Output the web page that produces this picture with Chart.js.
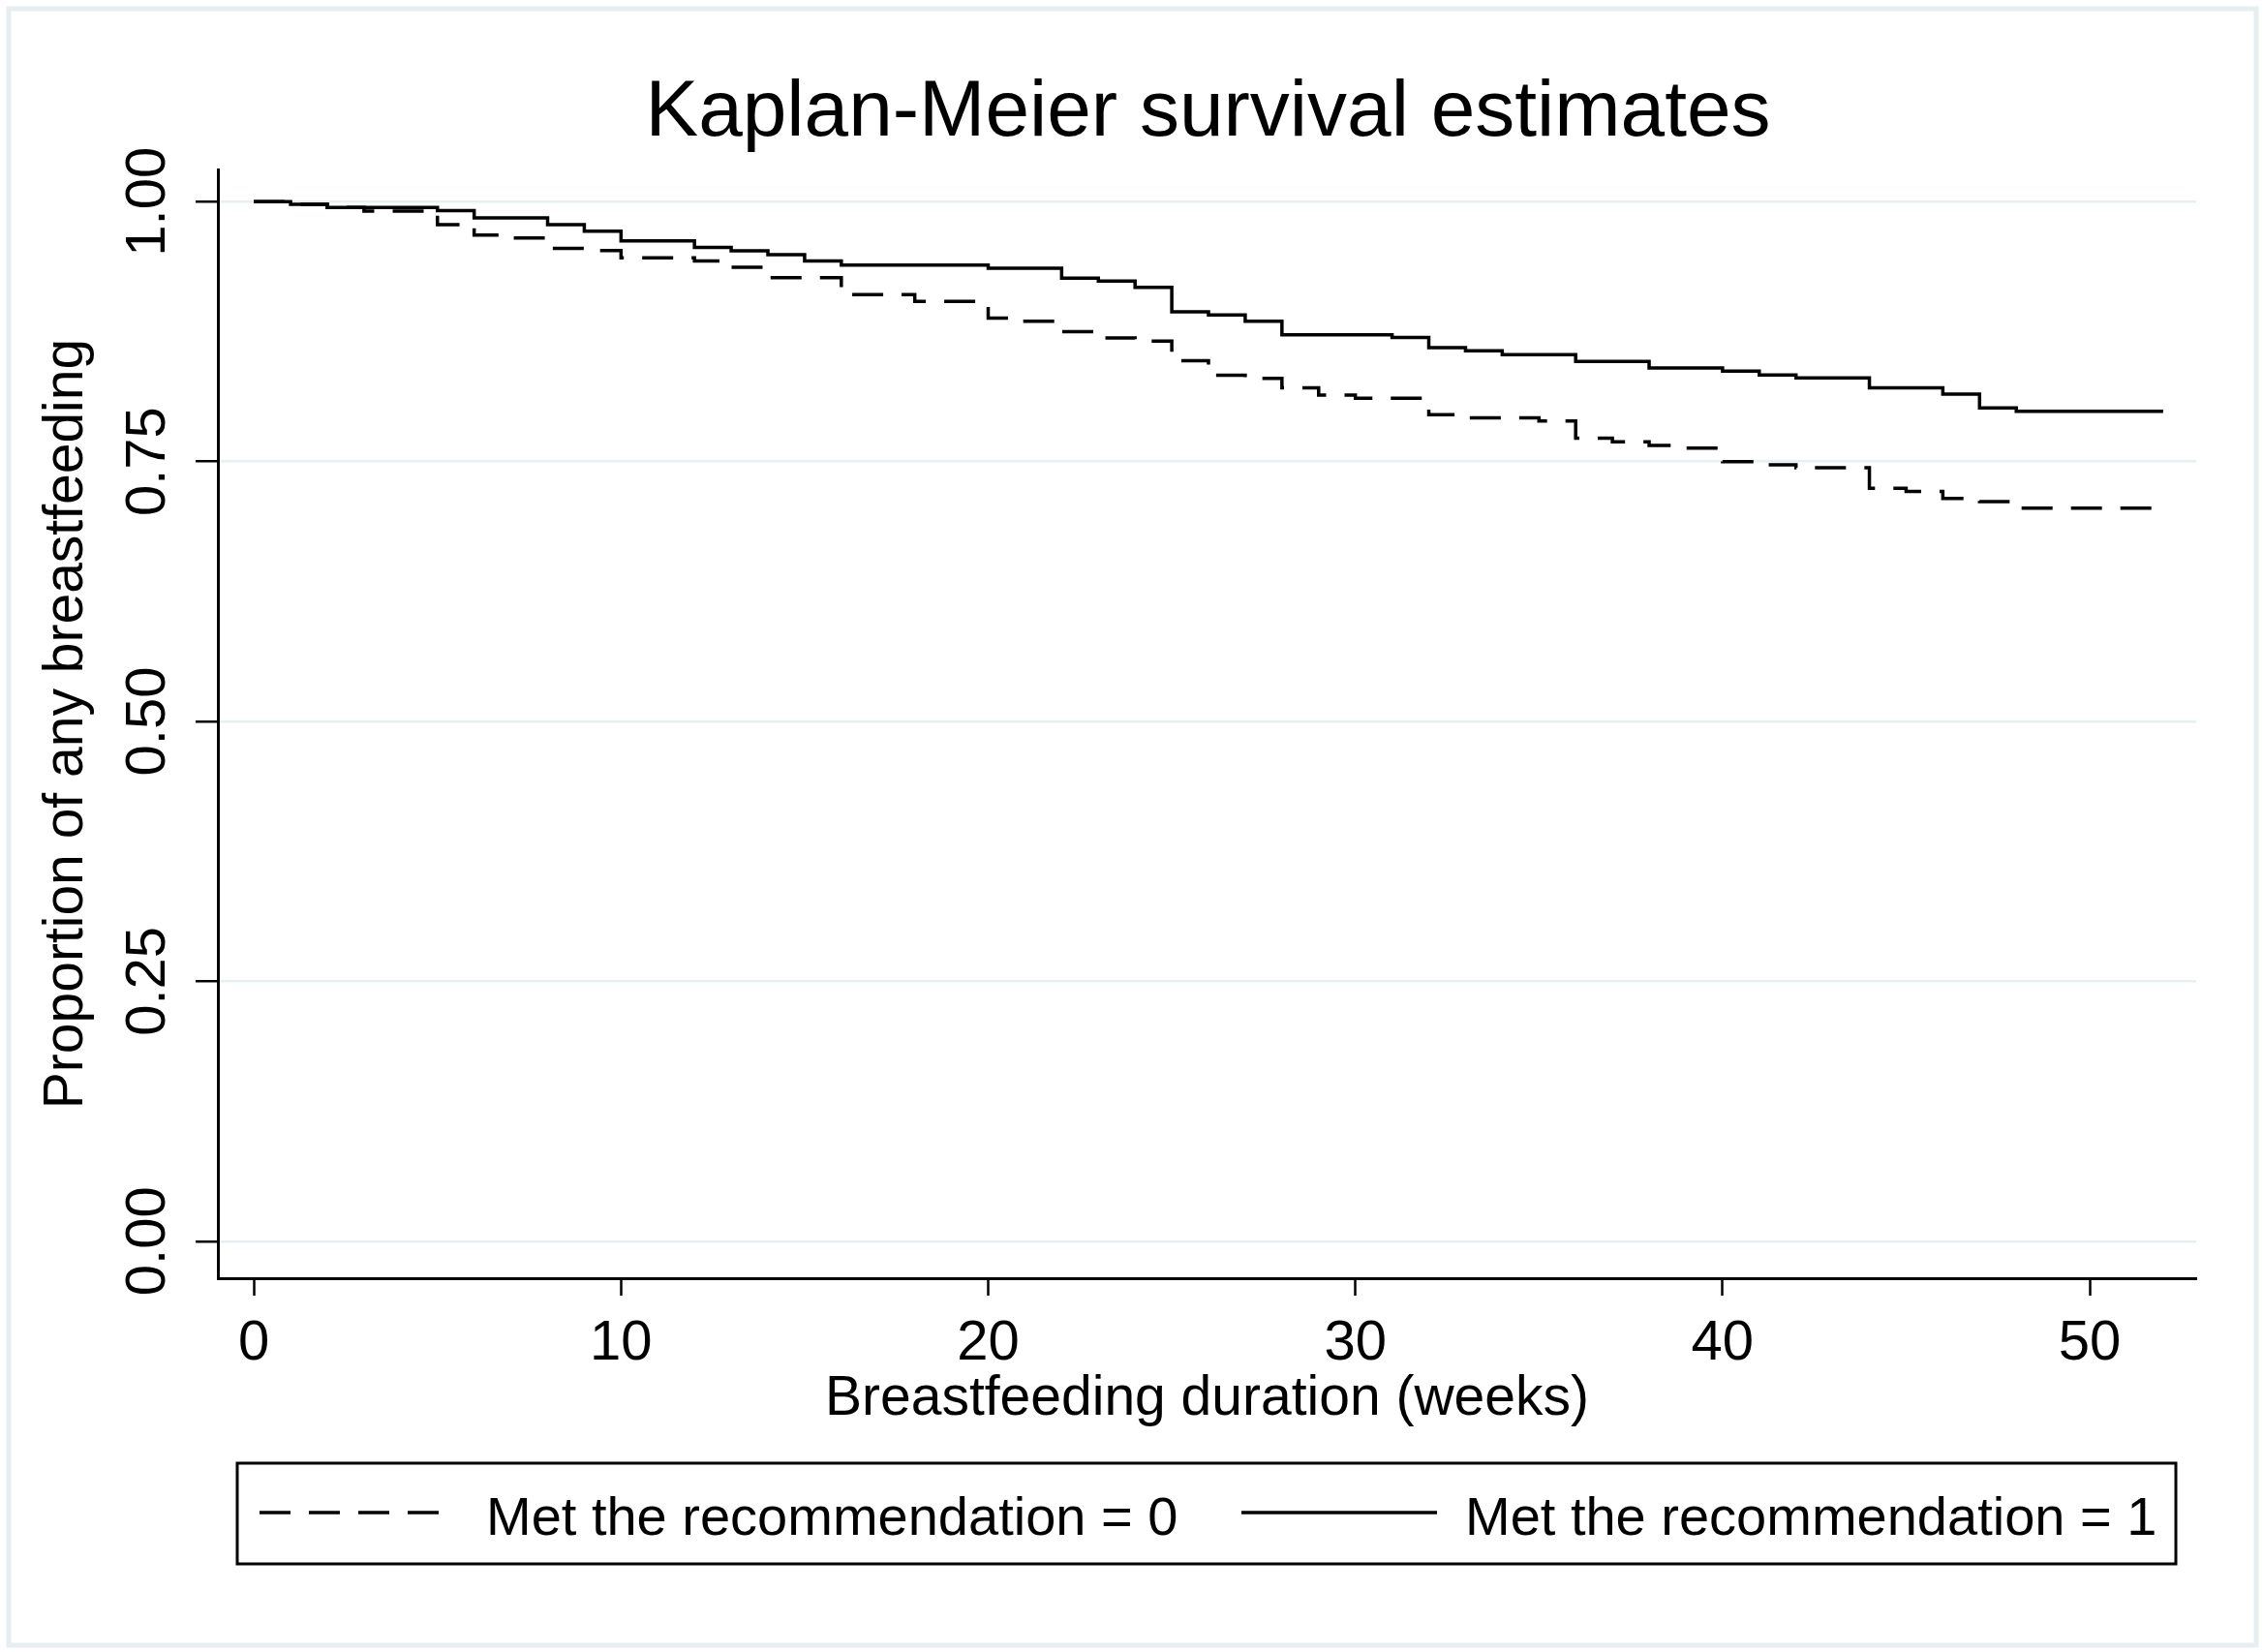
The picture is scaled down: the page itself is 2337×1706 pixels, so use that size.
<!DOCTYPE html>
<html>
<head>
<meta charset="utf-8">
<script src="https://cdn.jsdelivr.net/npm/chart.js@4.4.1/dist/chart.umd.min.js"></script>
<style>
  html, body { margin: 0; padding: 0; background: #ffffff; }
  canvas { display: block; }
</style>
</head>
<body>
<canvas id="c" width="2337" height="1706" style="width:2337px;height:1706px"></canvas>
<script>
// ---- data ----
const chartTitle = 'Kaplan-Meier survival estimates';
const xTitle = 'Breastfeeding duration (weeks)';
const yTitle = 'Proportion of any breastfeeding';
const seriesLabels = ['Met the recommendation = 0', 'Met the recommendation = 1'];

const weeks0 = [0,1,2,3,5,6,7,8,9,10,12,13,14,16,18,20,21,22,23,24,25,26,27,28,29,30,32,33,35,36,37,38,39,40,41,42,44,45,46,47,48,52];
const surv0  = [1.000,0.9975,0.9944,0.991,0.978,0.968,0.965,0.955,0.953,0.946,0.943,0.937,0.927,0.9105,0.904,0.888,0.885,0.875,0.869,0.866,0.847,0.833,0.830,0.821,0.814,0.811,0.795,0.792,0.789,0.7725,0.769,0.7654,0.763,0.750,0.747,0.744,0.7244,0.7213,0.7145,0.7114,0.7052,0.7052];

const weeks1 = [0,1,2,5,6,8,9,10,12,13,14,15,16,20,22,23,24,25,26,27,28,31,32,33,34,36,38,40,41,42,44,46,47,48,52];
const surv1  = [1.000,0.9975,0.9944,0.9913,0.9845,0.978,0.9716,0.9623,0.956,0.9528,0.949,0.943,0.939,0.936,0.9265,0.9237,0.9176,0.894,0.891,0.885,0.872,0.8694,0.8595,0.8565,0.8528,0.8463,0.840,0.837,0.8333,0.8306,0.821,0.8148,0.8015,0.7984,0.7984];

const xTickValues = [0,10,20,30,40,50];
const xTickLabels = ['0','10','20','30','40','50'];
const yTickValues = [0,0.25,0.5,0.75,1];
const yTickLabels = ['0.00','0.25','0.50','0.75','1.00'];

// ---- styling ----
const FONT = "'Liberation Sans', Arial, Helvetica, sans-serif";
Chart.defaults.font.family = FONT;
Chart.defaults.color = '#000000';

const toPoints = (xs, ys) => xs.map((x, i) => ({ x: x, y: ys[i] }));

const frameAndBg = {
  id: 'frameAndBg',
  beforeDraw(chart) {
    const ctx = chart.ctx;
    ctx.save();
    ctx.fillStyle = '#ffffff';
    ctx.fillRect(0, 0, chart.width, chart.height);
    ctx.strokeStyle = '#e6eef0';
    ctx.lineWidth = 5;
    ctx.strokeRect(9, 9, chart.width - 16, chart.height - 16);
    ctx.restore();
  }
};

const titleAndLegend = {
  id: 'titleAndLegend',
  afterDraw(chart) {
    const ctx = chart.ctx;
    const ca = chart.chartArea;
    ctx.save();
    // title centred over the plot region
    ctx.fillStyle = '#000000';
    ctx.font = '82px ' + FONT;
    ctx.textAlign = 'center';
    ctx.textBaseline = 'alphabetic';
    ctx.fillText(chartTitle, (ca.left + ca.right) / 2 + 1, 140);

    // legend box
    const boxL = 245, boxT = 1511, boxR = 2247, boxB = 1615;
    ctx.strokeStyle = '#000000';
    ctx.lineWidth = 3;
    ctx.setLineDash([]);
    ctx.strokeRect(boxL, boxT, boxR - boxL, boxB - boxT);

    const items = [
      { x0: 268, x1: 455, tx: 502 },
      { x0: 1282, x1: 1484, tx: 1513 }
    ];
    const lineY = 1562;
    ctx.font = '56px ' + FONT;
    ctx.textAlign = 'left';
    chart.data.datasets.forEach((ds, i) => {
      const it = items[i];
      ctx.beginPath();
      ctx.setLineDash(ds.borderDash || []);
      ctx.lineWidth = ds.borderWidth;
      ctx.strokeStyle = ds.borderColor;
      ctx.moveTo(it.x0, lineY);
      ctx.lineTo(it.x1, lineY);
      ctx.stroke();
      ctx.setLineDash([]);
      ctx.fillStyle = '#000000';
      ctx.fillText(ds.label, it.tx, 1585);
    });
    ctx.restore();
  }
};

new Chart(document.getElementById('c'), {
  type: 'line',
  data: {
    datasets: [
      {
        label: seriesLabels[0],
        data: toPoints(weeks0, surv0),
        stepped: 'before',
        borderColor: '#000000',
        borderWidth: 3.5,
        borderDash: [32, 19],
        pointRadius: 0,
        fill: false,
        tension: 0
      },
      {
        label: seriesLabels[1],
        data: toPoints(weeks1, surv1),
        stepped: 'before',
        borderColor: '#000000',
        borderWidth: 3.5,
        pointRadius: 0,
        fill: false,
        tension: 0
      }
    ]
  },
  options: {
    responsive: false,
    devicePixelRatio: 1,
    animation: false,
    layout: { padding: { left: 0, right: 69, top: 175, bottom: 226 } },
    plugins: {
      legend: { display: false },
      title: { display: false },
      tooltip: { enabled: false }
    },
    scales: {
      x: {
        type: 'linear',
        min: -0.98,
        max: 52.9,
        afterBuildTicks: (s) => { s.ticks = xTickValues.map(v => ({ value: v })); },
        afterFit: (s) => { s.height = 160; },
        ticks: {
          autoSkip: false,
          maxRotation: 0,
          minRotation: 0,
          padding: 15,
          color: '#000000',
          font: { size: 58 },
          callback: (v, i) => xTickLabels[i]
        },
        grid: {
          drawOnChartArea: false,
          drawTicks: true,
          tickLength: 18,
          tickColor: '#000000',
          tickWidth: 2.5
        },
        border: { display: true, color: '#000000', width: 3 },
        title: {
          display: true,
          text: xTitle,
          color: '#000000',
          font: { size: 57 },
          padding: { top: 0, bottom: 1 }
        }
      },
      y: {
        type: 'linear',
        min: -0.0356,
        max: 1.031,
        afterBuildTicks: (s) => { s.ticks = yTickValues.map(v => ({ value: v })); },
        afterFit: (s) => { s.width = 225; },
        ticks: {
          autoSkip: false,
          minRotation: 90,
          maxRotation: 90,
          crossAlign: 'center',
          padding: -8,
          color: '#000000',
          font: { size: 58 },
          callback: (v, i) => yTickLabels[i]
        },
        grid: {
          drawOnChartArea: true,
          color: '#e6f0f2',
          lineWidth: 2.5,
          drawTicks: true,
          tickLength: 23,
          tickColor: '#000000',
          tickWidth: 2.5
        },
        border: { display: true, color: '#000000', width: 3 },
        title: {
          display: true,
          text: yTitle,
          color: '#000000',
          font: { size: 57 },
          padding: { top: 35, bottom: 0 }
        }
      }
    }
  },
  plugins: [frameAndBg, titleAndLegend]
});
</script>
</body>
</html>
